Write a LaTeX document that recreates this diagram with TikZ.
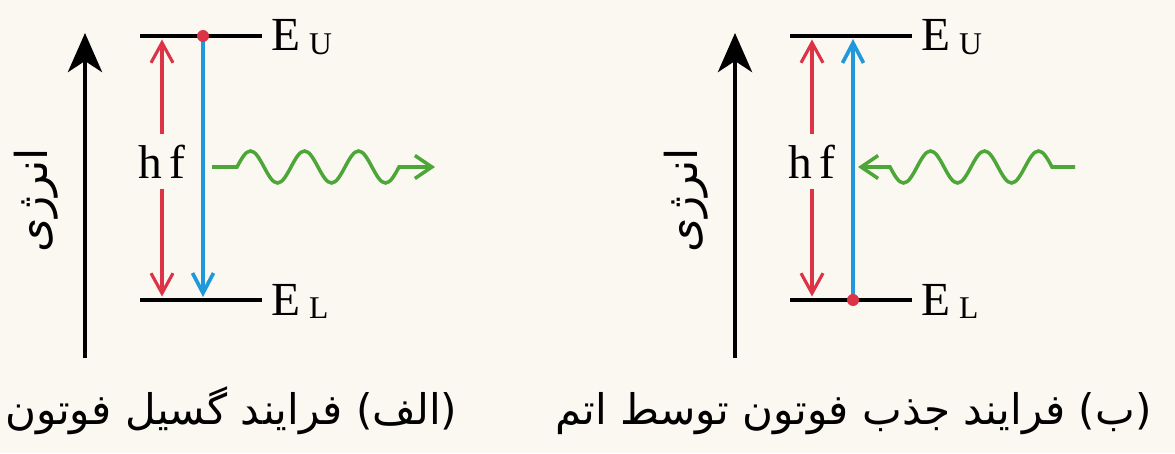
\documentclass[tikz,border=0pt]{standalone}
\usepackage{fontspec}
\setmainfont{Liberation Serif}
\newfontfamily\farsifont[Script=Arabic]{DejaVu Sans}
\TeXXeTstate=1
\usetikzlibrary{arrows.meta}
\definecolor{paper}{RGB}{251,248,242}
\definecolor{levred}{RGB}{220,52,70}
\definecolor{levblue}{RGB}{32,152,218}
\definecolor{wavegreen}{RGB}{76,166,56}
\newcommand{\subU}[1]{\kern5pt\raisebox{-2pt}{\fontsize{18}{18}\selectfont #1}}
\tikzset{
  level/.style={line width=2.4pt},
  axis/.style={line width=2.6pt,-{Stealth[length=0.78cm,width=0.68cm,inset=0.22cm]}},
  pairarrow/.style={levred,line width=1.8pt,-{Straight Barb[length=0.4cm,width=0.44cm]}},
  bluearrow/.style={levblue,line width=2.1pt,-{Straight Barb[length=0.4cm,width=0.42cm]}},
  photon/.style={wavegreen,line width=2pt,-{Straight Barb[length=0.34cm,width=0.46cm]}},
  hflabel/.style={inner xsep=2pt,inner ysep=0.2cm,font=\fontsize{27}{30}\selectfont},
  levlabel/.style={anchor=base west,inner sep=0pt,font=\fontsize{27}{30}\selectfont},
  energylabel/.style={rotate=90,inner sep=0pt,font=\farsifont\fontsize{25}{28}\selectfont},
  caption/.style={inner sep=0pt,font=\farsifont\fontsize{24}{28}\selectfont}
}
\begin{document}
\begin{tikzpicture}[scale=1.0]
\fill[paper] (0,0) rectangle (23.5,9.06);
\useasboundingbox (0,0) rectangle (23.5,9.06);
\coordinate (a1b) at (1.7,1.9);
\coordinate (a1t) at (1.7,8.4);
\coordinate (u1l) at (2.8,8.34);
\coordinate (u1r) at (5.24,8.34);
\coordinate (l1l) at (2.8,3.06);
\coordinate (l1r) at (5.24,3.06);
\coordinate (r1t) at (3.24,8.27);
\coordinate (r1b) at (3.24,3.13);
\coordinate (b1t) at (4.06,8.34);
\coordinate (b1b) at (4.06,3.12);
\coordinate (w1s) at (4.24,5.72);
\coordinate (w1e) at (8.7,5.72);
\draw[axis] (a1b) -- (a1t);
\draw[level] (u1l) -- (u1r);
\draw[level] (l1l) -- (l1r);
\node[hflabel] (hf1) at (3.24,5.83) {h\,f};
\draw[pairarrow] (hf1) -- (r1t);
\draw[pairarrow] (hf1) -- (r1b);
\draw[bluearrow] (b1t) -- (b1b);
\fill[levred] (b1t) circle (0.12);
\draw[photon] (w1s) -- ++(0.5,0) \foreach \k in {1,2,3} {sin ++(0.27,0.32) cos ++(0.27,-0.32) sin ++(0.27,-0.32) cos ++(0.27,0.32)} -- (w1e);
\node[levlabel] (eu1) at (5.42,8.04) {E\subU{U}};
\node[levlabel] (el1) at (5.42,2.76) {E\subU{L}};
\node[energylabel] (en1) at (0.72,5.06) {\beginR انرژی\endR};
\node[caption,anchor=base west] (cap1) at (0.1,0.58) {\beginR (الف) فرایند گسیل فوتون\endR};
\coordinate (a2b) at (14.7,1.9);
\coordinate (a2t) at (14.7,8.4);
\coordinate (u2l) at (15.8,8.34);
\coordinate (u2r) at (18.24,8.34);
\coordinate (l2l) at (15.8,3.06);
\coordinate (l2r) at (18.24,3.06);
\coordinate (r2t) at (16.24,8.27);
\coordinate (r2b) at (16.24,3.13);
\coordinate (b2b) at (17.06,3.06);
\coordinate (b2t) at (17.06,8.28);
\coordinate (w2s) at (21.5,5.72);
\coordinate (w2e) at (17.16,5.72);
\draw[axis] (a2b) -- (a2t);
\draw[level] (u2l) -- (u2r);
\draw[level] (l2l) -- (l2r);
\node[hflabel] (hf2) at (16.24,5.83) {h\,f};
\draw[pairarrow] (hf2) -- (r2t);
\draw[pairarrow] (hf2) -- (r2b);
\draw[bluearrow] (b2b) -- (b2t);
\fill[levred] (b2b) circle (0.12);
\draw[photon] (w2s) -- ++(-0.46,0) \foreach \k in {1,2,3} {sin ++(-0.27,0.32) cos ++(-0.27,-0.32) sin ++(-0.27,-0.32) cos ++(-0.27,0.32)} -- (w2e);
\node[levlabel] (eu2) at (18.42,8.04) {E\subU{U}};
\node[levlabel] (el2) at (18.42,2.76) {E\subU{L}};
\node[energylabel] (en2) at (13.72,5.06) {\beginR انرژی\endR};
\node[caption,anchor=base west] (cap2) at (11.1,0.58) {\beginR (ب) فرایند جذب فوتون توسط اتم\endR};
\end{tikzpicture}
\end{document}
